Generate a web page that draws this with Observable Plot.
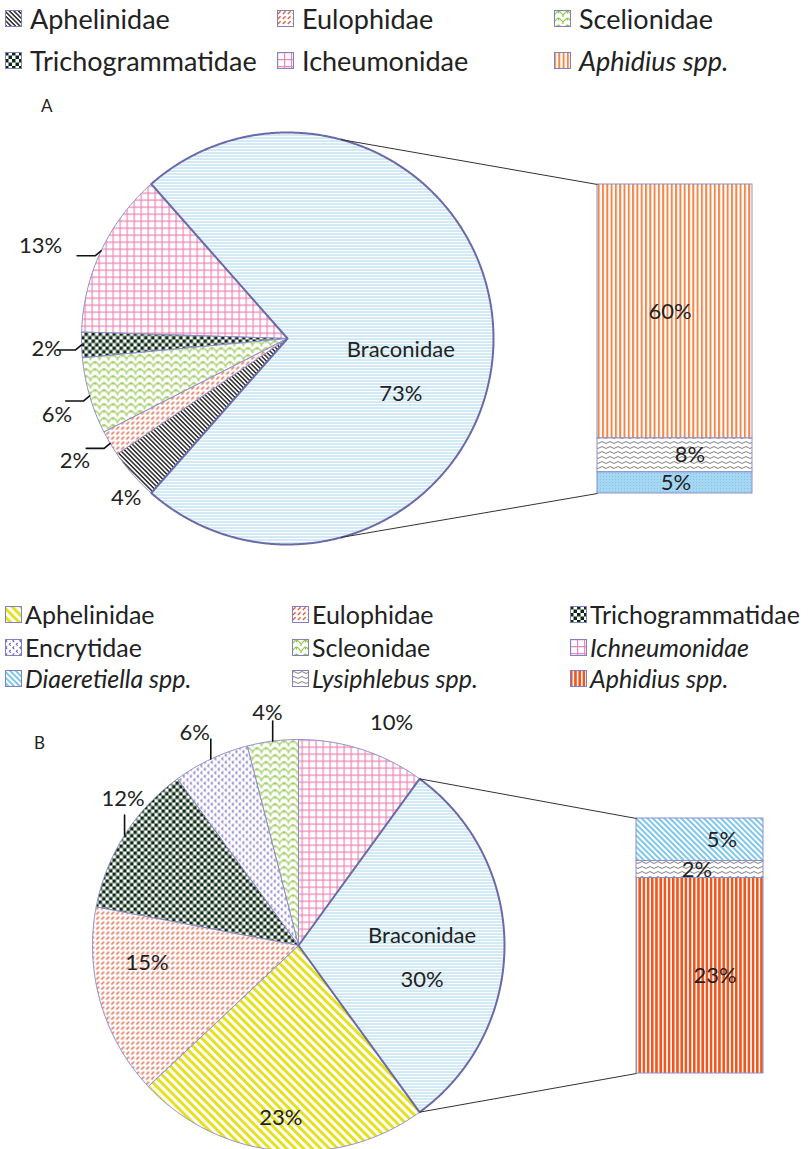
<!DOCTYPE html>
<html><head><meta charset="utf-8">
<script src="https://cdn.jsdelivr.net/npm/d3@7"></script>
<script src="https://cdn.jsdelivr.net/npm/@observablehq/plot@0.6"></script>
<style>
body{margin:0;width:812px;height:1149px;position:relative;overflow:hidden;background:#fff;font-family:Lato,"Open Sans",sans-serif;color:#222}
.leg{position:absolute;display:flex;align-items:center;white-space:nowrap;line-height:1}
.leg svg{flex:none}
.chart{position:absolute;left:0}
.panel{position:absolute;font-size:17px;line-height:1}
</style></head><body>
<svg width="0" height="0" style="position:absolute">
<defs>
<pattern id="pBrac" patternUnits="userSpaceOnUse" width="6" height="3"><rect width="6" height="3" fill="#fff"/><rect y="0" width="6" height="1.1" fill="#a9d7ec"/></pattern>
<pattern id="pGrid" patternUnits="userSpaceOnUse" width="7" height="7"><rect width="7" height="7" fill="#fff"/><path d="M0,0.6H7M0.6,0V7" stroke="#ec86b4" stroke-width="1.2"/></pattern>
<pattern id="pCheck" patternUnits="userSpaceOnUse" width="7" height="7"><rect width="7" height="7" fill="#fff"/><rect width="3.5" height="3.5" fill="#0d2b14"/><rect x="3.5" y="3.5" width="3.5" height="3.5" fill="#0d2b14"/></pattern>
<pattern id="pShingle" patternUnits="userSpaceOnUse" width="9" height="7"><rect width="9" height="7" fill="#fff"/><path d="M0,4.5 C2.2,4.5 2.2,1 4.5,1 C6.8,1 6.8,4.5 9,4.5 M4.5,1 V3.6 M0,4.5 V7 M9,4.5 V7" fill="none" stroke="#93c54e" stroke-width="1.25"/></pattern>
<pattern id="pDash" patternUnits="userSpaceOnUse" width="5" height="5"><rect width="5" height="5" fill="#fff"/><path d="M0.8,4 L3.6,1.2" stroke="#dc5a3a" stroke-width="1.25"/></pattern>
<pattern id="pDiagDark" patternUnits="userSpaceOnUse" width="3.2" height="3.2" patternTransform="rotate(45)"><rect width="3.2" height="3.2" fill="#fff"/><rect width="3.2" height="1.5" fill="#2a2a2a"/></pattern>
<pattern id="pDiagYellow" patternUnits="userSpaceOnUse" width="6" height="6" patternTransform="rotate(45)"><rect width="6" height="6" fill="#fff"/><rect width="6" height="3" fill="#e6e11e"/></pattern>
<pattern id="pEnc" patternUnits="userSpaceOnUse" width="7" height="7"><rect width="7" height="7" fill="#fff"/><path d="M2.2,0.4 L0.8,1.8 L2.2,3.2 M5.7,3.9 L4.3,5.3 L5.7,6.7" fill="none" stroke="#6e5fb8" stroke-width="1.1"/></pattern>
<pattern id="pDiagBlue" patternUnits="userSpaceOnUse" width="4" height="4" patternTransform="rotate(45)"><rect width="4" height="4" fill="#fff"/><rect width="4" height="2" fill="#7ec7ec"/></pattern>
<pattern id="pBlueDots" patternUnits="userSpaceOnUse" width="3" height="3"><rect width="3" height="3" fill="#a6d7f2"/><rect width="1" height="1" fill="#85c2e8"/></pattern>
<pattern id="pWave" patternUnits="userSpaceOnUse" width="8" height="5"><rect width="8" height="5" fill="#fff"/><path d="M0,2.5 Q2,0.6 4,2.5 T8,2.5" fill="none" stroke="#808080" stroke-width="1"/></pattern>
<pattern id="pVOrange" patternUnits="userSpaceOnUse" width="4.3" height="4"><rect width="4.3" height="4" fill="#fff"/><rect width="2" height="4" fill="#f2874a"/></pattern>
<pattern id="pVRed" patternUnits="userSpaceOnUse" width="4.2" height="4"><rect width="4.2" height="4" fill="#fff"/><rect width="2.6" height="4" fill="#f0561d"/></pattern>
</defs>
</svg>
<script>
// ---------- DATA ----------
// Chart A
const pieA_categories = ["Braconidae","Icheumonidae","Trichogrammatidae","Scelionidae","Eulophidae","Aphelinidae"];
const pieA_values = [73, 13, 2, 6, 2, 4];
const barA_categories = ["Aphidius spp.","Lysiphlebus spp.","Diaeretiella spp."];   // top to bottom
const barA_values = [60, 8, 5];
const legendA_labels = ["Aphelinidae","Eulophidae","Scelionidae","Trichogrammatidae","Icheumonidae","Aphidius spp."];
// Chart B
const pieB_categories = ["Braconidae","Ichneumonidae","Scleonidae","Encrytidae","Trichogrammatidae","Eulophidae","Aphelinidae"];
const pieB_values = [30, 10, 4, 6, 12, 15, 23];
const barB_categories = ["Diaeretiella spp.","Lysiphlebus spp.","Aphidius spp."];   // top to bottom
const barB_values = [5, 2, 23];
const legendB_labels = ["Aphelinidae","Eulophidae","Trichogrammatidae","Encrytidae","Scleonidae","Ichneumonidae","Diaeretiella spp.","Lysiphlebus spp.","Aphidius spp."];
const italicLabels = ["Aphidius spp.","Diaeretiella spp.","Lysiphlebus spp.","Ichneumonidae"];

// ---------- STYLES ----------
const patternA = {"Braconidae":"pBrac","Icheumonidae":"pGrid","Trichogrammatidae":"pCheck","Scelionidae":"pShingle","Eulophidae":"pDash","Aphelinidae":"pDiagDark","Aphidius spp.":"pVOrange","Lysiphlebus spp.":"pWave","Diaeretiella spp.":"pBlueDots"};
const patternB = {"Braconidae":"pBrac","Ichneumonidae":"pGrid","Scleonidae":"pShingle","Encrytidae":"pEnc","Trichogrammatidae":"pCheck","Eulophidae":"pDash","Aphelinidae":"pDiagYellow","Diaeretiella spp.":"pDiagBlue","Lysiphlebus spp.":"pWave","Aphidius spp.":"pVRed"};

// ---------- LAYOUT ----------
const layoutA = {top:80, h:520, cx:287, cy:338, r:206, barX0:597, barX1:752, barTop:184, barBottom:493,
  connAngle:75, bracK:0.55, bracDy:26,
  lblK:[1.28,1.17,1.18,1.19,1.1], lblDA:[4.6,0.6,2.2,-0.7,3.2],
  leader:"elbow", leaderIdx:[1,2,3,4], barLblDx:[-5,15,1]};
const layoutB = {top:690, h:459, cx:298, cy:945, r:206, barX0:636, barX1:763, barTop:818, barBottom:1073,
  connAngle:null, bracK:0.6, bracDy:5,
  lblK:[1.17,1.14,1.15,1.11,0.74,0.84], lblDA:[-4.7,0.4,0.8,-7.5,-9.8,-0.5],
  leader:"up", leaderIdx:[2,3,4], barLblDx:[22,-3,15]};

function pieOfBar(cats, vals, barCats, barVals, pat, L) {
  const total = d3.sum(vals);
  let acc = -vals[0] / total * 180;
  const slices = cats.map((c, i) => { const a0 = acc, a1 = acc + vals[i] / total * 360; acc = a1; return {cat:c, val:vals[i], a0, a1, mid:(a0 + a1) / 2}; });
  const rad = d => d * Math.PI / 180;
  const pt = (a, k = 1) => ({x: L.cx + k * L.r * Math.cos(rad(a)), y: L.cy - k * L.r * Math.sin(rad(a))});
  const arcPts = s => {
    const n = Math.max(2, Math.ceil((s.a1 - s.a0) / 0.5));
    const p = [{x:L.cx, y:L.cy}];
    for (let j = 0; j <= n; j++) p.push(pt(s.a0 + (s.a1 - s.a0) * j / n));
    p.push({x:L.cx, y:L.cy});
    return p;
  };
  const marks = [];
  slices.slice(1).forEach(s => marks.push(Plot.line(arcPts(s), {x:"x", y:"y", fill:`url(#${pat[s.cat]})`, stroke:"#8e8ecb", strokeWidth:1, curve:"linear"})));
  const b = slices[0];
  marks.push(Plot.line(arcPts(b), {x:"x", y:"y", fill:`url(#${pat[b.cat]})`, stroke:"#6a6aa8", strokeWidth:2, curve:"linear"}));

  // stacked bar for the Braconidae breakdown
  const barTotal = d3.sum(barVals);
  let yy = L.barTop;
  const segs = barCats.map((c, i) => {
    const h = barVals[i] / barTotal * (L.barBottom - L.barTop);
    const s = {cat:c, val:barVals[i], x1:L.barX0, x2:L.barX1, y1:yy, y2:yy + h, lx:(L.barX0 + L.barX1) / 2 + L.barLblDx[i], ly:yy + h / 2};
    yy += h; return s;
  });
  segs.forEach(s => marks.push(Plot.rect([s], {x1:"x1", x2:"x2", y1:"y1", y2:"y2", fill:`url(#${pat[s.cat]})`, stroke:"#8e8ecb", strokeWidth:1})));

  // connector lines
  const cTop = L.connAngle != null ? pt(L.connAngle) : pt(b.a1);
  const cBot = L.connAngle != null ? pt(-L.connAngle) : pt(b.a0);
  marks.push(Plot.link([{x1:cTop.x, y1:cTop.y, x2:L.barX0, y2:L.barTop}, {x1:cBot.x, y1:cBot.y, x2:L.barX0, y2:L.barBottom}],
    {x1:"x1", y1:"y1", x2:"x2", y2:"y2", stroke:"#333", strokeWidth:1}));

  // leader lines
  const leaders = [];
  L.leaderIdx.forEach(i => {
    const e = pt(slices[i].mid);
    const pts = L.leader === "elbow"
      ? [e, {x:e.x - 6, y:e.y + 5}, {x:e.x - 24, y:e.y + 5}]
      : [e, {x:e.x, y:e.y - 20}];
    pts.forEach(p => leaders.push({...p, k:i}));
  });
  marks.push(Plot.line(leaders, {x:"x", y:"y", z:"k", stroke:"#111", strokeWidth:1.6}));

  // labels
  const labels = slices.slice(1).map((s, j) => ({...pt(s.mid + L.lblDA[j], L.lblK[j]), t:`${s.val}%`}));
  marks.push(Plot.text(labels, {x:"x", y:"y", text:"t", fontSize:22, fill:"#222"}));
  marks.push(Plot.text([{x:L.cx + L.bracK * L.r, y:L.cy + L.bracDy, t:`${b.cat}\n${b.val}%`}], {x:"x", y:"y", text:"t", fontSize:22, lineHeight:2, fill:"#222"}));
  marks.push(Plot.text(segs, {x:"lx", y:"ly", text:s => `${s.val}%`, fontSize:22, fill:"#222"}));

  const chart = Plot.plot({
    width:812, height:L.h, margin:0,
    x:{domain:[0, 812], range:[0, 812], axis:null},
    y:{domain:[L.top, L.top + L.h], range:[0, L.h], axis:null},
    style:{fontFamily:"Lato, 'Open Sans', sans-serif", background:"transparent"},
    marks
  });
  chart.classList.add("chart");
  chart.style.top = L.top + "px";
  document.body.appendChild(chart);
}

function legend(labels, pat, cols, rows, fontSize, gap) {
  labels.forEach((lab, i) => {
    const d = document.createElement("div");
    d.className = "leg";
    d.style.left = cols[i % 3] + "px";
    d.style.top = (rows[Math.floor(i / 3)] - fontSize / 2) + "px";
    d.style.height = fontSize + "px";
    d.style.fontSize = fontSize + "px";
    d.style.gap = gap + "px";
    d.innerHTML = `<svg width="17" height="17"><rect x="0.5" y="0.5" width="16" height="16" fill="url(#${pat[lab]})" stroke="#8080c0"/></svg><span style="font-style:${italicLabels.includes(lab) ? "italic" : "normal"}">${lab}</span>`;
    document.body.appendChild(d);
  });
}

legend(legendA_labels, patternA, [5, 277, 554], [18, 60], 27, 8);
legend(legendB_labels, patternB, [5, 292, 570], [614, 647, 678], 25, 3);

const pa = document.createElement("div"); pa.className = "panel"; pa.textContent = "A"; pa.style.left = "41px"; pa.style.top = "97px"; document.body.appendChild(pa);
const pb = document.createElement("div"); pb.className = "panel"; pb.textContent = "B"; pb.style.left = "34px"; pb.style.top = "734px"; document.body.appendChild(pb);

pieOfBar(pieA_categories, pieA_values, barA_categories, barA_values, patternA, layoutA);
pieOfBar(pieB_categories, pieB_values, barB_categories, barB_values, patternB, layoutB);
</script>
</body></html>
